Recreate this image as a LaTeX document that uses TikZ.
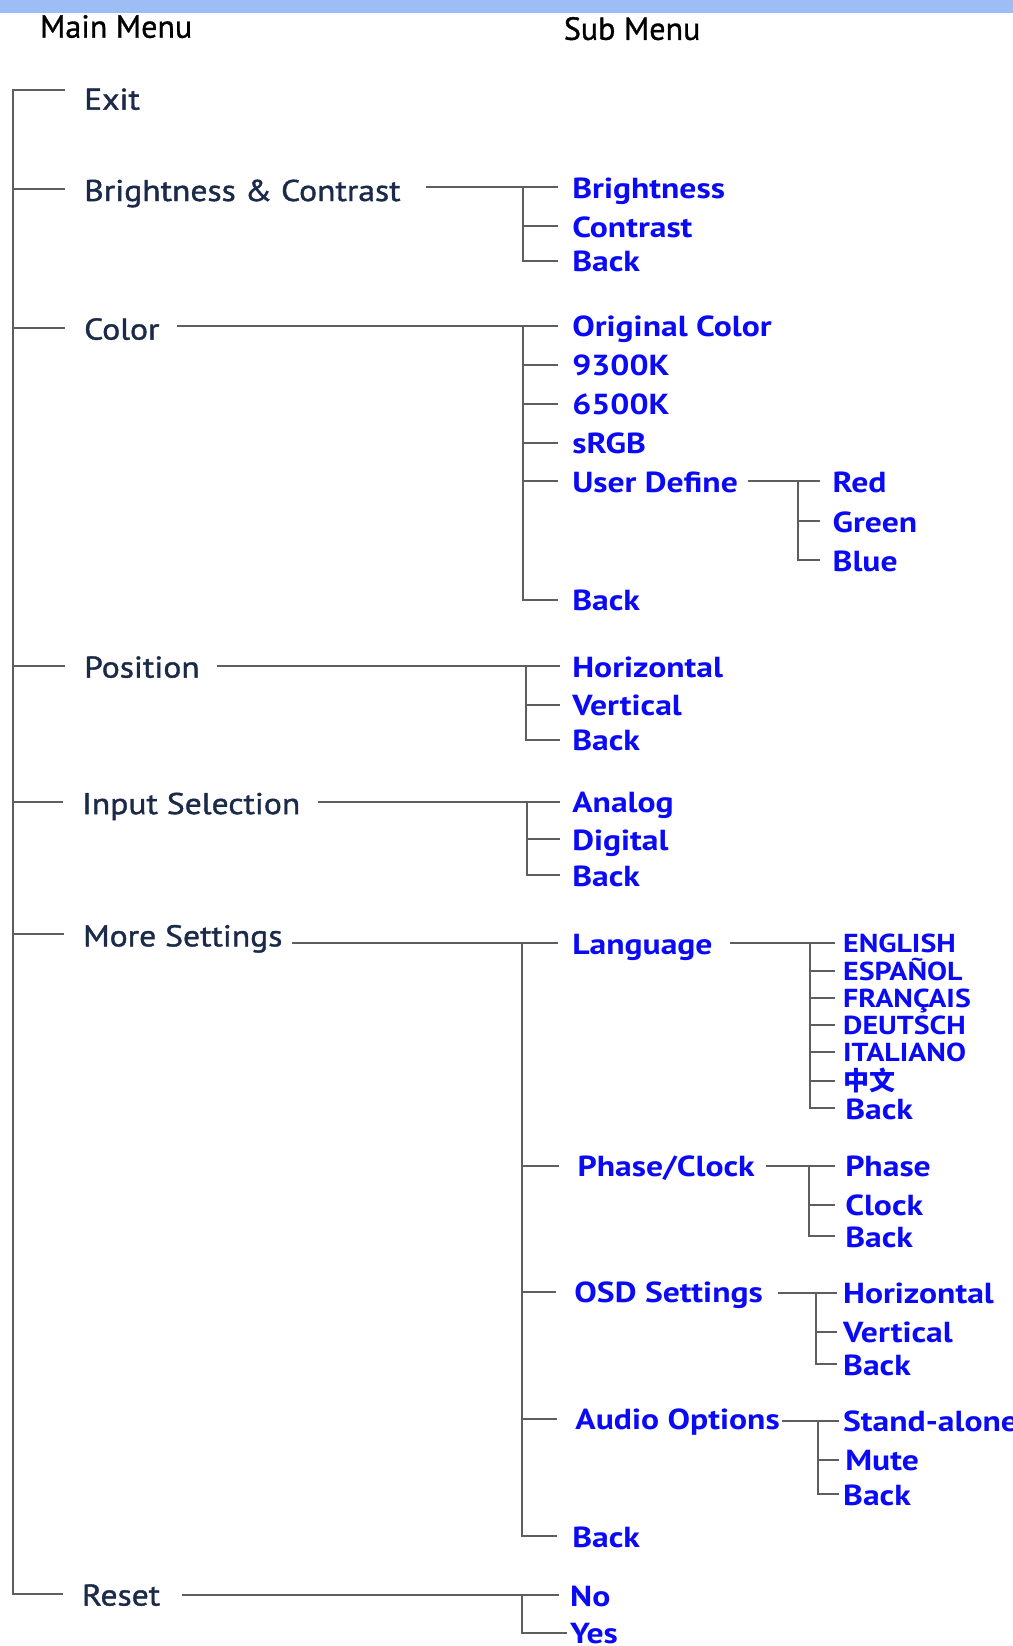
\documentclass[tikz,border=0pt]{standalone}
\usepackage{fontspec}
\setmainfont{PT Sans}
\newfontfamily\hdfont{PT Sans}[FakeBold=1.0]
\newfontfamily\mmfont{PT Sans}[FakeStretch=1.12,FakeBold=1.3]
\newfontfamily\sbfont{PT Sans}[FakeStretch=1.16]
\newfontfamily\lgfont{PT Sans}[FakeStretch=1.15]
\newfontfamily\cjk{Noto Sans CJK SC}
\definecolor{navy}{HTML}{1B2A48}
\definecolor{itemblue}{HTML}{0A0AF5}
\definecolor{linegray}{HTML}{5E5E5E}
\definecolor{barblue}{HTML}{9CBDF6}
\begin{document}
\begin{tikzpicture}[x=1.0497pt,y=-1.0497pt,
  ln/.style={draw=linegray,line width=2pt},
  header/.style={anchor=base west,inner sep=0pt,yshift=-11.5pt,text=black,font=\fontsize{32}{32}\hdfont},
  mainitem/.style={anchor=base west,inner sep=0pt,text height=24pt,text depth=0pt,yshift=-11pt,text=navy,font=\fontsize{30}{30}\mmfont},
  subitem/.style={anchor=base west,inner sep=0pt,text height=22pt,text depth=0pt,yshift=-10.5pt,text=itemblue,font=\fontsize{29}{29}\sbfont\bfseries},
  langitem/.style={anchor=base west,inner sep=0pt,text height=19pt,text depth=0pt,yshift=-9pt,text=itemblue,font=\fontsize{26}{26}\lgfont\bfseries}]
\useasboundingbox (0,0) rectangle (965,1568);
\fill[barblue] (0,0) rectangle (965,12);
% headers
\node[header] (hmain) at (38,25) {Main Menu};
\node[header] (hsub) at (537,27) {Sub Menu};
% main items
\node[mainitem] (exit) at (80,94) {Exit};
\node[mainitem] (bc) at (80,181) {Brightness \& Contrast};
\node[mainitem] (color) at (80,313) {Color};
\node[mainitem] (pos) at (80,635) {Position};
\node[mainitem] (inp) at (78,765) {Input Selection};
\node[mainitem] (more) at (79,891) {More Settings};
\node[mainitem] (reset) at (78,1519) {Reset};
% brightness & contrast
\node[subitem] (b1) at (545,179) {Brightness};
\node[subitem] (b2) at (545,216) {Contrast};
\node[subitem] (b3) at (545,249) {Back};
% color
\node[subitem] (c1) at (545,311) {Original Color};
\node[subitem] (c2) at (545,348) {9300K};
\node[subitem] (c3) at (545,385) {6500K};
\node[subitem] (c4) at (545,422) {sRGB};
\node[subitem] (c5) at (545,459) {User Define};
\node[subitem] (c6) at (545,572) {Back};
\node[subitem] (u1) at (793,459) {Red};
\node[subitem] (u2) at (793,497) {Green};
\node[subitem] (u3) at (793,534) {Blue};
% position
\node[subitem] (p1) at (545,635) {Horizontal};
\node[subitem] (p2) at (545,672) {Vertical};
\node[subitem] (p3) at (545,705) {Back};
% input
\node[subitem] (i1) at (545,764) {Analog};
\node[subitem] (i2) at (545,800) {Digital};
\node[subitem] (i3) at (545,834) {Back};
% more settings
\node[subitem] (m1) at (545,899) {Language};
\node[subitem] (m2) at (550,1111) {Phase/Clock};
\node[subitem] (m3) at (547,1231) {OSD Settings};
\node[subitem] (m4) at (548,1352) {Audio Options};
\node[subitem] (m5) at (545,1464) {Back};
\node[langitem] (l1) at (803,899) {ENGLISH};
\node[langitem] (l2) at (803,925) {ESPAÑOL};
\node[langitem] (l3) at (803,951) {FRANÇAIS};
\node[langitem] (l4) at (803,977) {DEUTSCH};
\node[langitem] (l5) at (803,1003) {ITALIANO};
\node[langitem] (l6) at (803,1030) {\cjk\bfseries 中文};
\node[subitem] (l7) at (805,1056) {Back};
\node[subitem] (ph1) at (805,1111) {Phase};
\node[subitem] (ph2) at (805,1148) {Clock};
\node[subitem] (ph3) at (805,1178) {Back};
\node[subitem] (o1) at (803,1232) {Horizontal};
\node[subitem] (o2) at (803,1269) {Vertical};
\node[subitem] (o3) at (803,1300) {Back};
\node[subitem] (a1) at (803,1354) {Stand-alone};
\node[subitem] (a2) at (805,1391) {Mute};
\node[subitem] (a3) at (803,1424) {Back};
% reset
\node[subitem] (r1) at (543,1520) {No};
\node[subitem] (r2) at (543,1556) {Yes};
% junction columns
\coordinate (jt) at (12,0);
\coordinate (jbc) at (498,0);
\coordinate (jc) at (498,0);
\coordinate (ju) at (760,0);
\coordinate (jp) at (501,0);
\coordinate (ji) at (502,0);
\coordinate (jm) at (497,0);
\coordinate (jl) at (772,0);
\coordinate (jph) at (771,0);
\coordinate (jo) at (777,0);
\coordinate (ja) at (779,0);
\coordinate (jr) at (497,0);
% main trunk
\draw[ln] ([xshift=-19pt,yshift=8pt]exit.west) -| (jt |- reset.west) -- ([xshift=-19pt]reset.west);
\foreach \n in {bc,color,pos,inp,more}{\draw[ln] (jt |- \n.west) -- ([xshift=-19pt]\n.west);}
% brightness & contrast
\draw[ln] ([xshift=25pt]bc.east |- b1.west) -- ([xshift=-14pt]b1.west);
\draw[ln] (jbc |- b1.west) |- ([xshift=-14pt]b3.west);
\draw[ln] (jbc |- b2.west) -- ([xshift=-14pt]b2.west);
% color
\draw[ln] ([xshift=17pt]color.east |- c1.west) -- ([xshift=-14pt]c1.west);
\draw[ln] (jc |- c1.west) |- ([xshift=-14pt]c6.west);
\foreach \n in {c2,c3,c4,c5}{\draw[ln] (jc |- \n.west) -- ([xshift=-14pt]\n.west);}
\draw[ln] ([xshift=10pt]c5.east |- u1.west) -- ([xshift=-12pt]u1.west);
\draw[ln] (ju |- u1.west) |- ([xshift=-12pt]u3.west);
\draw[ln] (ju |- u2.west) -- ([xshift=-12pt]u2.west);
% position
\draw[ln] ([xshift=17pt]pos.east |- p1.west) -- ([xshift=-12pt]p1.west);
\draw[ln] (jp |- p1.west) |- ([xshift=-12pt]p3.west);
\draw[ln] (jp |- p2.west) -- ([xshift=-12pt]p2.west);
% input
\draw[ln] ([xshift=18pt]inp.east |- i1.west) -- ([xshift=-12pt]i1.west);
\draw[ln] (ji |- i1.west) |- ([xshift=-12pt]i3.west);
\draw[ln] (ji |- i2.west) -- ([xshift=-12pt]i2.west);
% more settings
\draw[ln] ([xshift=9pt]more.east |- m1.west) -- ([xshift=-14pt]m1.west);
\draw[ln] (jm |- m1.west) |- ([xshift=-15pt]m5.west);
\foreach \n in {m2,m3,m4}{\draw[ln] (jm |- \n.west) -- ([xshift=-18pt]\n.west);}
\draw[ln] ([xshift=17pt]m1.east |- l1.west) -- ([xshift=-8pt]l1.west);
\draw[ln] (jl |- l1.west) |- ([xshift=-10pt]l7.west);
\foreach \n in {l2,l3,l4,l5,l6}{\draw[ln] (jl |- \n.west) -- ([xshift=-8pt]\n.west);}
\draw[ln] ([xshift=11pt]m2.east |- ph1.west) -- ([xshift=-10pt]ph1.west);
\draw[ln] (jph |- ph1.west) |- ([xshift=-10pt]ph3.west);
\draw[ln] (jph |- ph2.west) -- ([xshift=-10pt]ph2.west);
\draw[ln] ([xshift=15pt]m3.east |- o1.west) -- ([xshift=-6pt]o1.west);
\draw[ln] (jo |- o1.west) |- ([xshift=-6pt]o3.west);
\draw[ln] (jo |- o2.west) -- ([xshift=-6pt]o2.west);
\draw[ln] ([xshift=2pt]m4.east |- a1.west) -- ([xshift=-4pt]a1.west);
\draw[ln] (ja |- a1.west) |- ([xshift=-4pt]a3.west);
\draw[ln] (ja |- a2.west) -- ([xshift=-6pt]a2.west);
% reset
\draw[ln] ([xshift=22pt]reset.east |- r1.west) -- ([xshift=-11pt]r1.west);
\draw[ln] (jr |- r1.west) |- ([xshift=-3pt]r2.west);
\end{tikzpicture}
\end{document}
